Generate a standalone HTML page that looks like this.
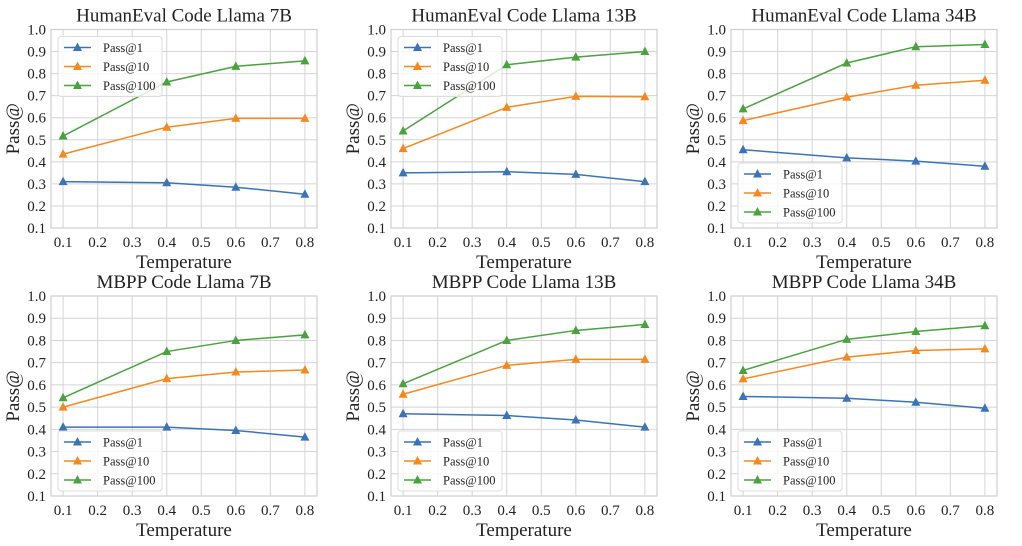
<!DOCTYPE html>
<html><head><meta charset="utf-8"><style>
body{margin:0;background:#fff;}
svg, svg text{font-family:"Liberation Serif","DejaVu Serif",serif;}
svg{display:block;}
</style></head><body>
<svg id="fig" width="1022" height="546" font-family="Liberation Serif, DejaVu Serif, serif"></svg>
<script>
const temps = [0.1, 0.4, 0.6, 0.8];
const xTicks = [0.1,0.2,0.3,0.4,0.5,0.6,0.7,0.8];
const yTicks = [0.1,0.2,0.3,0.4,0.5,0.6,0.7,0.8,0.9,1.0];
const titles = ["HumanEval Code Llama 7B","HumanEval Code Llama 13B","HumanEval Code Llama 34B","MBPP Code Llama 7B","MBPP Code Llama 13B","MBPP Code Llama 34B"];
const seriesNames = ["Pass@1","Pass@10","Pass@100"];
const he7_p1=[0.31,0.305,0.285,0.253], he7_p10=[0.435,0.557,0.597,0.597], he7_p100=[0.517,0.762,0.833,0.858];
const he13_p1=[0.35,0.355,0.343,0.31], he13_p10=[0.46,0.647,0.697,0.695], he13_p100=[0.54,0.84,0.875,0.90];
const he34_p1=[0.455,0.418,0.403,0.38], he34_p10=[0.587,0.693,0.747,0.77], he34_p100=[0.64,0.848,0.922,0.932];
const mb7_p1=[0.41,0.41,0.395,0.365], mb7_p10=[0.50,0.628,0.658,0.667], mb7_p100=[0.542,0.75,0.80,0.825];
const mb13_p1=[0.47,0.462,0.442,0.41], mb13_p10=[0.558,0.688,0.715,0.715], mb13_p100=[0.605,0.80,0.845,0.872];
const mb34_p1=[0.548,0.54,0.522,0.495], mb34_p10=[0.627,0.725,0.755,0.762], mb34_p100=[0.665,0.805,0.84,0.866];
const panelData=[[he7_p1,he7_p10,he7_p100],[he13_p1,he13_p10,he13_p100],[he34_p1,he34_p10,he34_p100],[mb7_p1,mb7_p10,mb7_p100],[mb13_p1,mb13_p10,mb13_p100],[mb34_p1,mb34_p10,mb34_p100]];
const legendLoc=["upper","upper","lower","lower","lower","lower"];
const colors=["#3b73b9","#f5891f","#4aa23f"];
const NS="http://www.w3.org/2000/svg";
const FF="Liberation Serif, DejaVu Serif, serif";
const fig=document.getElementById('fig');
function mk(tag,attrs,parent){const e=document.createElementNS(NS,tag);for(const k in attrs)e.setAttribute(k,attrs[k]);if(tag==='text')e.setAttribute('font-family',FF);parent.appendChild(e);return e;}
function tri(x,y,c,p){return mk('polygon',{points:`${x},${y-5} ${x-4.5},${y+3.5} ${x+4.5},${y+3.5}`,fill:c},p);}
for(let i=0;i<6;i++){
  const col=i%3,row=Math.floor(i/3);
  const L=51+col*340,R=L+266,T=row?296:29.5,H=row?200:198.5,B=T+H;
  const sx=v=>L+(v-0.065)/0.77*266;
  const sy=v=>B-(v-0.1)/0.9*H;
  const g=mk('g',{},fig);
  
  
  xTicks.forEach(t=>{
    mk('line',{x1:sx(t),x2:sx(t),y1:T,y2:B,stroke:'#d4d4d4','stroke-width':1},g);
    const tx=mk('text',{x:sx(t),y:B+19,'text-anchor':'middle','font-size':15,fill:'#222'},g);tx.textContent=t.toFixed(1);
    
    
  });
  yTicks.forEach(t=>{
    mk('line',{x1:L,x2:R,y1:sy(t),y2:sy(t),stroke:'#d4d4d4','stroke-width':1},g);
    const tx=mk('text',{x:L-5,y:sy(t)+5,'text-anchor':'end','font-size':15,fill:'#222'},g);tx.textContent=t.toFixed(1);
    
    
  });
  mk('rect',{x:L,y:T,width:266,height:H,fill:'none',stroke:'#cfcfcf','stroke-width':1.2},g);
  const ti=mk('text',{x:(L+R)/2,y:T-8,'text-anchor':'middle','font-size':19,fill:'#222'},g);ti.textContent=titles[i];
  
  
  const xl=mk('text',{x:(L+R)/2,y:B+40,'text-anchor':'middle','font-size':19,fill:'#222'},g);xl.textContent='Temperature';
  
  
  const yc=(T+B)/2;
  const yl=mk('text',{x:L-32,y:yc,'text-anchor':'middle','font-size':19,fill:'#222',transform:`rotate(-90 ${L-32} ${yc})`},g);yl.textContent='Pass@';
  
  
  panelData[i].forEach((s,k)=>{
    const pl=mk('polyline',{points:s.map((v,j)=>sx(temps[j])+','+sy(v)).join(' '),fill:'none',stroke:colors[k],'stroke-width':1.5},g);
    
    
    s.forEach((v,j)=>{const m=tri(sx(temps[j]),sy(v),colors[k],g);
      
      });
  });
  const ly=legendLoc[i]=='upper'?T+7:B-65;
  const lg=mk('g',{},g);
  
  
  mk('rect',{x:L+7,y:ly,width:104,height:60,rx:3,fill:'rgba(255,255,255,0.8)',stroke:'#ddd'},lg);
  seriesNames.forEach((n,k)=>{
    const yy=ly+11+k*19;
    mk('line',{x1:L+13,x2:L+40,y1:yy,y2:yy,stroke:colors[k],'stroke-width':1.5},lg);
    tri(L+26.5,yy,colors[k],lg);
    const t=mk('text',{x:L+52,y:yy+4.5,'font-size':12.5,fill:'#222'},lg);t.textContent=n;
    
    
  });
}
</script>
</body></html>
